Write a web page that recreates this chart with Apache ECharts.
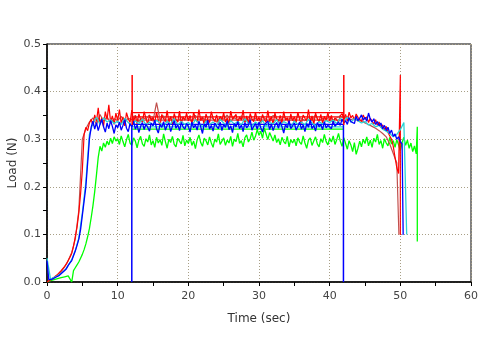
<!DOCTYPE html>
<html><head><meta charset="utf-8">
<script src="https://cdn.jsdelivr.net/npm/echarts@6/dist/echarts.min.js"></script>
<style>html,body{margin:0;padding:0;background:#fff}#c{width:480px;height:360px}</style>
</head><body><div id="c"></div>
<script>
// ---- data ----
const xTicks = [0, 10, 20, 30, 40, 50, 60];
const yTicks = ['0.0', '0.1', '0.2', '0.3', '0.4', '0.5'];

// red trace, one value every 0.25 s from t = 0
const redStep = 0.25;
const redValues = [
0,0.003,0.005,0.008,0.01,0.013,0.016,0.02,0.024,0.028,0.033,0.038,0.045,0.052,0.06,0.075,0.095,0.115,0.145,0.185,
0.235,0.31,0.325,0.318,0.334,0.342,0.328,0.351,0.337,0.366,0.332,0.345,0.327,0.358,0.341,0.372,0.336,0.349,0.331,0.355,
0.339,0.362,0.333,0.347,0.328,0.356,0.343,0.335,0.361,0.338,0.349,0.332,0.353,0.341,0.336,0.358,0.344,0.331,0.350,0.339,
0.346,0.334,0.357,0.340,0.329,0.352,0.343,0.337,0.360,0.335,0.348,0.331,0.354,0.342,0.336,0.359,0.333,0.347,0.340,0.355,
0.338,0.350,0.332,0.357,0.343,0.336,0.362,0.339,0.346,0.330,0.353,0.341,0.335,0.358,0.344,0.337,0.351,0.333,0.348,0.340,
0.356,0.336,0.345,0.331,0.359,0.342,0.338,0.352,0.334,0.347,0.340,0.361,0.335,0.349,0.332,0.354,0.343,0.337,0.357,0.339,
0.346,0.333,0.352,0.341,0.336,0.360,0.338,0.348,0.331,0.355,0.342,0.337,0.350,0.334,0.358,0.340,0.345,0.332,0.353,0.339,
0.347,0.335,0.357,0.341,0.333,0.351,0.344,0.338,0.362,0.336,0.349,0.331,0.355,0.342,0.337,0.352,0.334,0.348,0.340,0.356,
0.338,0.350,0.333,0.345,0.341,0.336,0.349,0.354,0.343,0.352,0.338,0.357,0.345,0.350,0.340,0.353,0.346,0.348,0.337,0.351,
0.342,0.347,0.335,0.344,0.338,0.332,0.341,0.329,0.336,0.325,0.330,0.320,0.327,0.314,0.318,0.300,0.285,0.262,0.240,0.228
];
const redEnd = [[50, 0.435], [50, 0.099]];

// dark red trace, one value every 0.5 s
const darkStep = 0.5;
const darkValues = [
0,0.004,0.009,0.015,0.022,0.032,0.045,0.062,0.09,0.15,0.30,0.322,0.336,0.345,0.331,0.352,0.338,0.347,0.334,0.343,
0.339,0.348,0.336,0.344,0.341,0.350,0.337,0.346,0.342,0.351,0.338,0.377,0.340,0.349,0.335,0.347,0.343,0.338,0.346,0.341,
0.344,0.337,0.350,0.341,0.346,0.339,0.348,0.343,0.336,0.347,0.342,0.351,0.338,0.345,0.340,0.349,0.337,0.346,0.341,0.344,
0.339,0.348,0.342,0.336,0.350,0.343,0.338,0.347,0.341,0.345,0.337,0.349,0.343,0.339,0.346,0.340,0.351,0.338,0.344,0.342,
0.347,0.340,0.345,0.349,0.343,0.347,0.341,0.344,0.338,0.340,0.334,0.331,0.327,0.323,0.318,0.312,0.305,0.29,0.27,0.25
];
const darkEnd = [[49.8, 0.10]];

// cyan trace, one value every 0.5 s
const cyanStep = 0.5;
const cyanValues = [
0.05,0.006,0.01,0.013,0.018,0.024,0.035,0.047,0.066,0.092,0.145,0.21,0.31,0.334,0.346,0.331,0.345,0.336,0.341,0.333,
0.338,0.331,0.344,0.335,0.328,0.339,0.333,0.342,0.330,0.336,0.329,0.340,0.334,0.327,0.338,0.332,0.343,0.330,0.337,0.331,
0.335,0.328,0.341,0.333,0.326,0.338,0.331,0.336,0.329,0.342,0.334,0.327,0.339,0.332,0.337,0.330,0.343,0.333,0.328,0.336,
0.331,0.339,0.327,0.335,0.332,0.341,0.329,0.337,0.333,0.326,0.338,0.331,0.336,0.330,0.342,0.334,0.328,0.337,0.332,0.339,
0.335,0.340,0.333,0.344,0.338,0.346,0.336,0.343,0.339,0.334,0.337,0.330,0.333,0.326,0.329,0.321,0.317,0.312,0.305,0.31,
0.32,0.335
];
const cyanEnd = [[50.9, 0.10]];

// blue trace, one value every 0.25 s
const blueStep = 0.25;
const blueValues = [
0.045,0.005,0.004,0.006,0.008,0.01,0.012,0.014,0.018,0.021,0.024,0.028,0.035,0.04,0.045,0.055,0.065,0.077,0.09,0.11,
0.14,0.17,0.2,0.25,0.30,0.325,0.338,0.321,0.335,0.318,0.331,0.342,0.326,0.315,0.334,0.322,0.339,0.327,0.312,0.33,
0.324,0.336,0.319,0.329,0.341,0.323,0.316,0.333,0.326,0.338,0.321,0.330,0.314,0.327,0.335,0.320,0.332,0.325,0.317,0.334,
0.328,0.340,0.322,0.313,0.331,0.325,0.337,0.319,0.329,0.334,0.316,0.327,0.339,0.323,0.331,0.318,0.335,0.326,0.321,0.333,
0.327,0.315,0.336,0.324,0.330,0.319,0.338,0.326,0.312,0.332,0.325,0.340,0.321,0.329,0.317,0.334,0.327,0.322,0.336,0.318,
0.331,0.325,0.339,0.320,0.328,0.314,0.333,0.326,0.337,0.322,0.330,0.316,0.335,0.324,0.329,0.341,0.319,0.327,0.333,0.321,
0.336,0.324,0.315,0.330,0.327,0.338,0.320,0.332,0.318,0.329,0.335,0.323,0.337,0.326,0.313,0.331,0.324,0.339,0.322,0.328,
0.334,0.319,0.327,0.336,0.321,0.330,0.316,0.333,0.325,0.340,0.322,0.329,0.317,0.335,0.326,0.331,0.320,0.337,0.324,0.329,
0.333,0.322,0.338,0.327,0.331,0.336,0.329,0.342,0.334,0.339,0.331,0.345,0.337,0.341,0.333,0.348,0.339,0.344,0.351,0.340,
0.346,0.338,0.355,0.342,0.336,0.343,0.331,0.337,0.328,0.334,0.322,0.329,0.318,0.325,0.312,0.319,0.306,0.311,0.300,0.305,
0.295,0.29
];
const blueEnd = [[50.4, 0.099]];

// green trace, one value every 0.25 s
const greenStep = 0.25;
const greenValues = [
0,0.002,0.003,0.004,0.005,0.006,0.007,0.008,0.009,0.01,0.011,0.012,0.013,0.014,0.0,0.024,0.03,0.036,0.042,0.05,
0.058,0.068,0.08,0.095,0.112,0.135,0.16,0.19,0.225,0.262,0.285,0.275,0.292,0.283,0.296,0.288,0.302,0.291,0.305,0.296,
0.301,0.289,0.307,0.295,0.284,0.299,0.310,0.292,0.287,0.303,0.296,0.282,0.298,0.306,0.290,0.285,0.301,0.294,0.309,0.288,
0.297,0.283,0.304,0.292,0.299,0.287,0.311,0.295,0.281,0.300,0.293,0.306,0.289,0.284,0.302,0.296,0.290,0.308,0.286,0.298,
0.291,0.304,0.287,0.296,0.280,0.299,0.309,0.293,0.285,0.302,0.297,0.288,0.305,0.292,0.283,0.300,0.294,0.311,0.289,0.296,
0.303,0.287,0.298,0.292,0.306,0.285,0.300,0.295,0.312,0.291,0.297,0.284,0.303,0.309,0.294,0.301,0.315,0.298,0.306,0.320,
0.308,0.317,0.302,0.323,0.311,0.299,0.314,0.305,0.296,0.309,0.293,0.301,0.288,0.304,0.295,0.290,0.306,0.284,0.299,0.292,
0.300,0.286,0.303,0.294,0.289,0.307,0.292,0.281,0.298,0.303,0.287,0.296,0.305,0.290,0.284,0.301,0.293,0.310,0.295,0.288,
0.302,0.294,0.307,0.289,0.299,0.312,0.296,0.285,0.303,0.291,0.279,0.297,0.288,0.274,0.293,0.268,0.281,0.296,0.284,0.300,
0.291,0.305,0.286,0.298,0.283,0.302,0.294,0.310,0.289,0.297,0.281,0.301,0.292,0.286,0.304,0.290,0.297,0.283,0.299,0.288,
0.276,0.293,0.304,0.287,0.298,0.281,0.292,0.274,0.286,0.269
];
const greenEnd = [[52.4, 0.326], [52.4, 0.085]];

// hold segment (12 s to 42 s) levels and markers
const holdStart = 12.05;
const holdEnd = 42;
const holdLevels = [
  { name: 'red', value: 0.356 },
  { name: 'red', value: 0.347 },
  { name: 'dark', value: 0.340 },
  { name: 'blue', value: 0.331 },
  { name: 'cyan', value: 0.326 },
  { name: 'green', value: 0.321 }
];
const redSpikeBase = 0.33;
const redSpikeTop = 0.435;
const blueDropTop = 0.33;
const blueDropBottom = 0;

// ---- build ----
const colors = { red: '#ff0000', dark: '#c0504d', cyan: '#2ad4d4', blue: '#0000ff', green: '#00ff00' };
function trace(vals, step, end) {
  const d = vals.map((v, i) => [i * step, v]);
  return d.concat(end);
}
function line(name, data, color, z, w) {
  return { type: 'line', name, data, showSymbol: false, symbol: 'none', animation: false,
    lineStyle: { color, width: w || 1 }, z: z || 2 };
}
const series = [];
holdLevels.forEach(l => {
  series.push(line(l.name + 'Hold', [[holdStart, l.value], [holdEnd, l.value]], colors[l.name], 1, 1.3));
});
series.push(line('green', trace(greenValues, greenStep, greenEnd), colors.green, 2, 1.3));
series.push(line('dark', trace(darkValues, darkStep, darkEnd), colors.dark, 3, 1.2));
series.push(line('red', trace(redValues, redStep, redEnd), colors.red, 4, 1.2));
series.push(line('cyan', trace(cyanValues, cyanStep, cyanEnd), colors.cyan, 5, 1.3));
series.push(line('blue', trace(blueValues, blueStep, blueEnd), colors.blue, 6, 1.3));
[holdStart, holdEnd].forEach(t => {
  series.push(line('redSpike', [[t, redSpikeBase], [t, redSpikeTop]], colors.red, 8, 1.5));
  series.push(line('blueDrop', [[t - 0.05, blueDropTop], [t - 0.05, blueDropBottom]], colors.blue, 8, 1.5));
});

const gridColor = '#a89f86';
const lblFont = { color: '#444', fontFamily: 'DejaVu Sans', fontSize: 11 };
const option = {
  backgroundColor: '#fff',
  animation: false,
  grid: { left: 47, right: 9, top: 44, bottom: 78, show: true, borderColor: '#000', borderWidth: 1,
    containLabel: false, outerBoundsMode: 'none' },
  xAxis: {
    type: 'value', min: xTicks[0], max: xTicks[xTicks.length - 1], interval: 10,
    name: 'Time (sec)', nameLocation: 'middle', nameGap: 31, nameMoveOverlap: false,
    nameTextStyle: { color: '#333', fontFamily: 'DejaVu Sans', fontSize: 12 },
    axisLine: { show: true, onZero: false, lineStyle: { color: '#000', width: 1.5 } },
    axisTick: { show: true, length: 4, lineStyle: { color: '#000' } },
    minorTick: { show: true, splitNumber: 2, length: 4, lineStyle: { color: '#000' } },
    axisLabel: Object.assign({ margin: 9 }, lblFont),
    splitLine: { show: true, lineStyle: { color: gridColor, type: [1, 2] } }
  },
  yAxis: {
    type: 'value', min: 0, max: 0.5, interval: 0.1,
    name: 'Load (N)', nameLocation: 'middle', nameGap: 28, nameMoveOverlap: false,
    nameTextStyle: { color: '#333', fontFamily: 'DejaVu Sans', fontSize: 12 },
    axisLine: { show: true, onZero: false, lineStyle: { color: '#000', width: 1.5 } },
    axisTick: { show: true, length: 4, lineStyle: { color: '#000' } },
    minorTick: { show: true, splitNumber: 2, length: 4, lineStyle: { color: '#000' } },
    axisLabel: Object.assign({ margin: 6, formatter: (v) => yTicks[Math.round(v * 10)] }, lblFont),
    splitLine: { show: true, lineStyle: { color: gridColor, type: [1, 2] } }
  },
  series
};
echarts.init(document.getElementById('c'), null, { renderer: 'canvas' }).setOption(option);
</script>
</body></html>
